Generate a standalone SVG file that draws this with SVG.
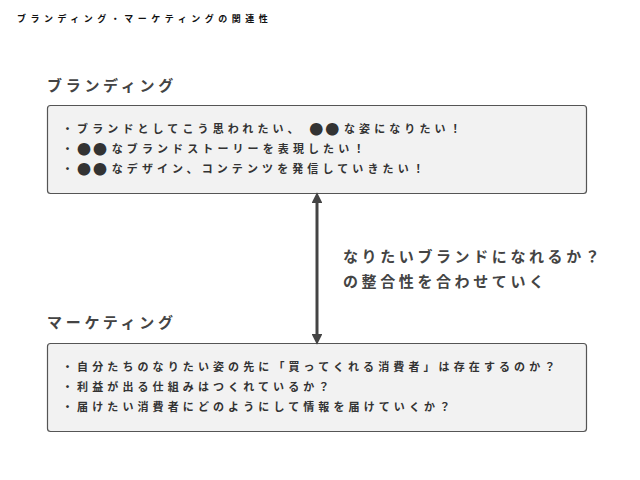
<svg xmlns="http://www.w3.org/2000/svg" width="640" height="480" viewBox="0 0 640 480">
<style>
text{font-family:"Noto Sans CJK JP","Noto Sans",sans-serif;font-weight:bold}
.title{font-size:9px;letter-spacing:4.5px;fill:#111}
.head{font-size:15px;letter-spacing:3.7px;fill:#444}
.item{font-size:11px;letter-spacing:4.1px;fill:#333}
.dot{font-size:14px;letter-spacing:1.8px}
.mid{font-size:15px;letter-spacing:3.6px;fill:#444}
.box{fill:#f2f2f2;stroke:#555;stroke-width:1.2}
.conn{stroke:#444;stroke-width:3;fill:none}
</style>
<defs>
<marker id="ah" viewBox="0 0 10 10" refX="2" refY="5" markerWidth="3.6" markerHeight="3.6" orient="auto-start-reverse" markerUnits="strokeWidth">
<path d="M0,0 L10,5 L0,10 z" fill="#444"/>
</marker>
</defs>
<rect width="640" height="480" fill="#fff"/>
<text class="title" x="17" y="22">ブランディング・マーケティングの関連性</text>
<g id="branding">
<text class="head" x="47" y="90.5">ブランディング</text>
<rect class="box" x="47.5" y="105.5" width="539" height="88" rx="3"/>
<text class="item" x="62" y="133">・ブランドとしてこう思われたい、 <tspan class="dot" dy="1">●●</tspan><tspan dx="3" dy="-1">な姿になりたい！</tspan></text>
<text class="item" x="62" y="153">・<tspan class="dot" dy="1">●●</tspan><tspan dx="3" dy="-1">なブランドストーリーを表現したい！</tspan></text>
<text class="item" x="62" y="173">・<tspan class="dot" dy="1">●●</tspan><tspan dx="3" dy="-1">なデザイン、コンテンツを発信していきたい！</tspan></text>
</g>
<g id="marketing">
<text class="head" x="47" y="327.5">マーケティング</text>
<rect class="box" x="47.5" y="343.5" width="539" height="88" rx="3"/>
<text class="item" x="62" y="370.5">・自分たちのなりたい姿の先に「買ってくれる消費者」は存在するのか？</text>
<text class="item" x="62" y="390.5">・利益が出る仕組みはつくれているか？</text>
<text class="item" x="62" y="411">・届けたい消費者にどのようにして情報を届けていくか？</text>
</g>
<g id="connectors">
<line class="conn" x1="317" y1="201" x2="317" y2="336" marker-start="url(#ah)" marker-end="url(#ah)"/>
</g>
<g id="relation-label">
<text class="mid" x="343" y="261.5">なりたいブランドになれるか？</text>
<text class="mid" x="343" y="286.5">の整合性を合わせていく</text>
</g>
</svg>
